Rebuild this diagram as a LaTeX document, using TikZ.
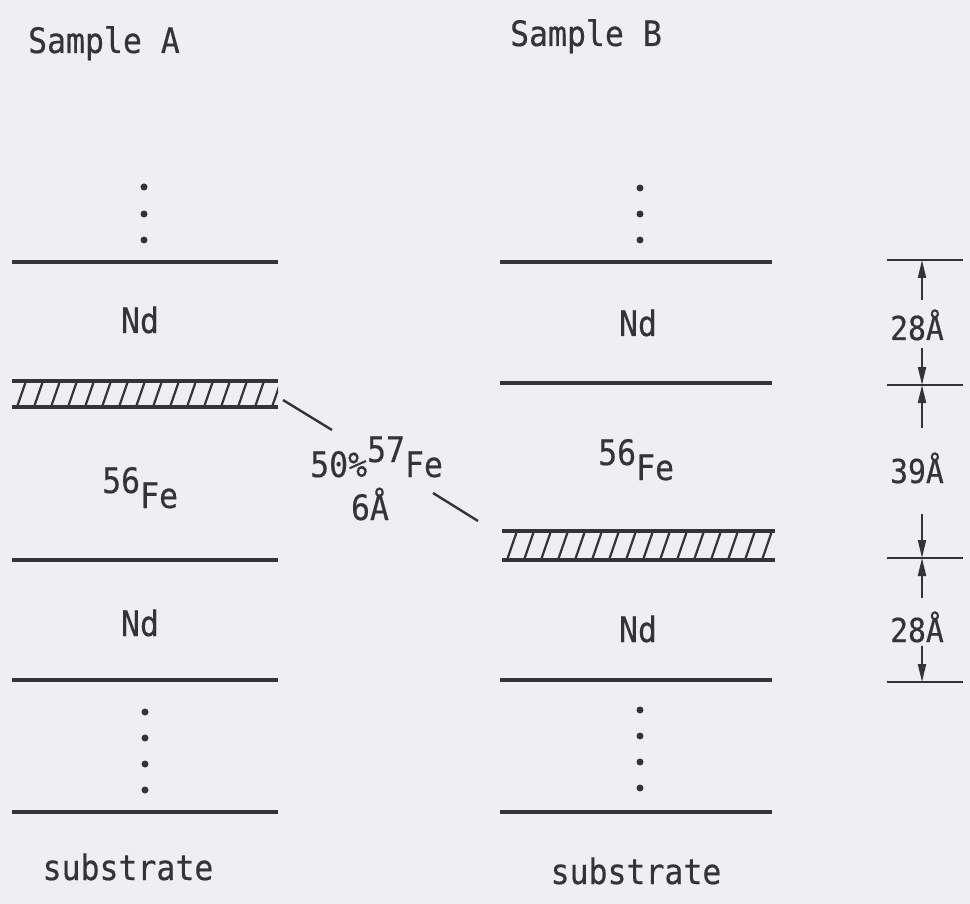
\documentclass[tikz,border=0pt]{standalone}
\usepackage{fontspec}
\setmainfont{DejaVu Sans Mono}[FakeStretch=0.9,FakeBold=0.4]
\usetikzlibrary{arrows.meta}
\definecolor{bg}{HTML}{EFEFF2}
\definecolor{ink}{HTML}{343436}
\newcommand\rais[1]{\raisebox{15pt}{#1}}
\begin{document}
\begin{tikzpicture}[x=1pt,y=-1pt,
  lyr/.style={draw=ink, line width=3.2pt},
  hatch/.style={draw=ink, line width=2.2pt},
  lbl/.style={text=ink, font=\fontsize{35}{40}\selectfont, inner sep=0pt},
  dlbl/.style={text=ink, font=\fontsize{33}{38}\selectfont, inner sep=0pt},
  dotn/.style={circle, fill=ink, inner sep=0pt, minimum size=7pt},
  tick/.style={draw=ink, line width=2.6pt},
  arr/.style={draw=ink, line width=2pt, -{Triangle[length=18pt,width=8pt]}},
  leader/.style={draw=ink, line width=2.4pt}]
\fill[bg] (0,0) rectangle (970,904);
\useasboundingbox (0,0) rectangle (970,904);

% titles
\node[lbl, anchor=base] (tA) at (104,53) {Sample A};
\node[lbl, anchor=base] (tB) at (586,46) {Sample B};

% ---------- Sample A ----------
\foreach \yy [count=\i] in {187,214,240} \node[dotn] (ad\i) at (144,\yy) {};
\draw[lyr] (12,262) -- (278,262);
\node[lbl, anchor=base] (aNd1) at (140,333) {Nd};
\begin{scope}
  \clip (12,381) rectangle (278,407);
  \foreach \xx in {0,17,...,300} \draw[hatch] (\xx,407) -- (\xx+9,381);
\end{scope}
\draw[lyr] (12,381) -- (278,381);
\draw[lyr] (12,407) -- (278,407);
\coordinate (bandA) at (283,400);
\node[lbl, anchor=base west] (aFe) at (102,508) {\rais{56}Fe};
\draw[lyr] (12,560) -- (278,560);
\node[lbl, anchor=base] (aNd2) at (140,636) {Nd};
\draw[lyr] (12,680) -- (278,680);
\foreach \yy [count=\i] in {712,738,764,790} \node[dotn] (ae\i) at (145,\yy) {};
\draw[lyr] (12,812) -- (278,812);
\node[lbl, anchor=base] (aSub) at (128,880) {substrate};

% ---------- Sample B ----------
\foreach \yy [count=\i] in {188,214,240} \node[dotn] (bd\i) at (640,\yy) {};
\draw[lyr] (500,262) -- (772,262);
\node[lbl, anchor=base] (bNd1) at (638,336) {Nd};
\draw[lyr] (500,383) -- (772,383);
\node[lbl, anchor=base west] (bFe) at (598,480) {\rais{56}Fe};
\begin{scope}
  \clip (502,531) rectangle (775,560);
  \foreach \xx in {490,507,...,800} \draw[hatch] (\xx,560) -- (\xx+10,531);
\end{scope}
\draw[lyr] (502,531) -- (775,531);
\draw[lyr] (502,560) -- (775,560);
\coordinate (bandB) at (478,521);
\node[lbl, anchor=base] (bNd2) at (638,642) {Nd};
\draw[lyr] (500,680) -- (772,680);
\foreach \yy [count=\i] in {710,736,762,788} \node[dotn] (be\i) at (640,\yy) {};
\draw[lyr] (500,812) -- (772,812);
\node[lbl, anchor=base] (bSub) at (636,884) {substrate};

% ---------- label of the 57Fe layer ----------
\node[lbl, anchor=base west] (mix) at (310,477) {50\%\rais{57}Fe};
\node[lbl, anchor=base] (thk) at (370,520) {6Å};
\coordinate (mixA) at (332,430);
\coordinate (mixB) at (433,493);
\draw[leader] (bandA) -- (mixA);
\draw[leader] (mixB) -- (bandB);

% ---------- dimensions ----------
\foreach \yy [count=\i] in {260,385,558,682} {
  \draw[tick] (887,\yy) -- (963,\yy);
  \coordinate (t\i) at (922,\yy);
}
\coordinate (a1) at (922,300);
\coordinate (a2) at (922,348);
\coordinate (a3) at (922,428);
\coordinate (a4) at (922,514);
\coordinate (a5) at (922,598);
\coordinate (a6) at (922,646);
\draw[arr] (a1) -- (t1);
\draw[arr] (a2) -- (t2);
\draw[arr] (a3) -- (t2);
\draw[arr] (a4) -- (t3);
\draw[arr] (a5) -- (t3);
\draw[arr] (a6) -- (t4);
\node[dlbl, anchor=base] (d1) at (917,340) {28Å};
\node[dlbl, anchor=base] (d2) at (917,483) {39Å};
\node[dlbl, anchor=base] (d3) at (917,642) {28Å};
\end{tikzpicture}
\end{document}
